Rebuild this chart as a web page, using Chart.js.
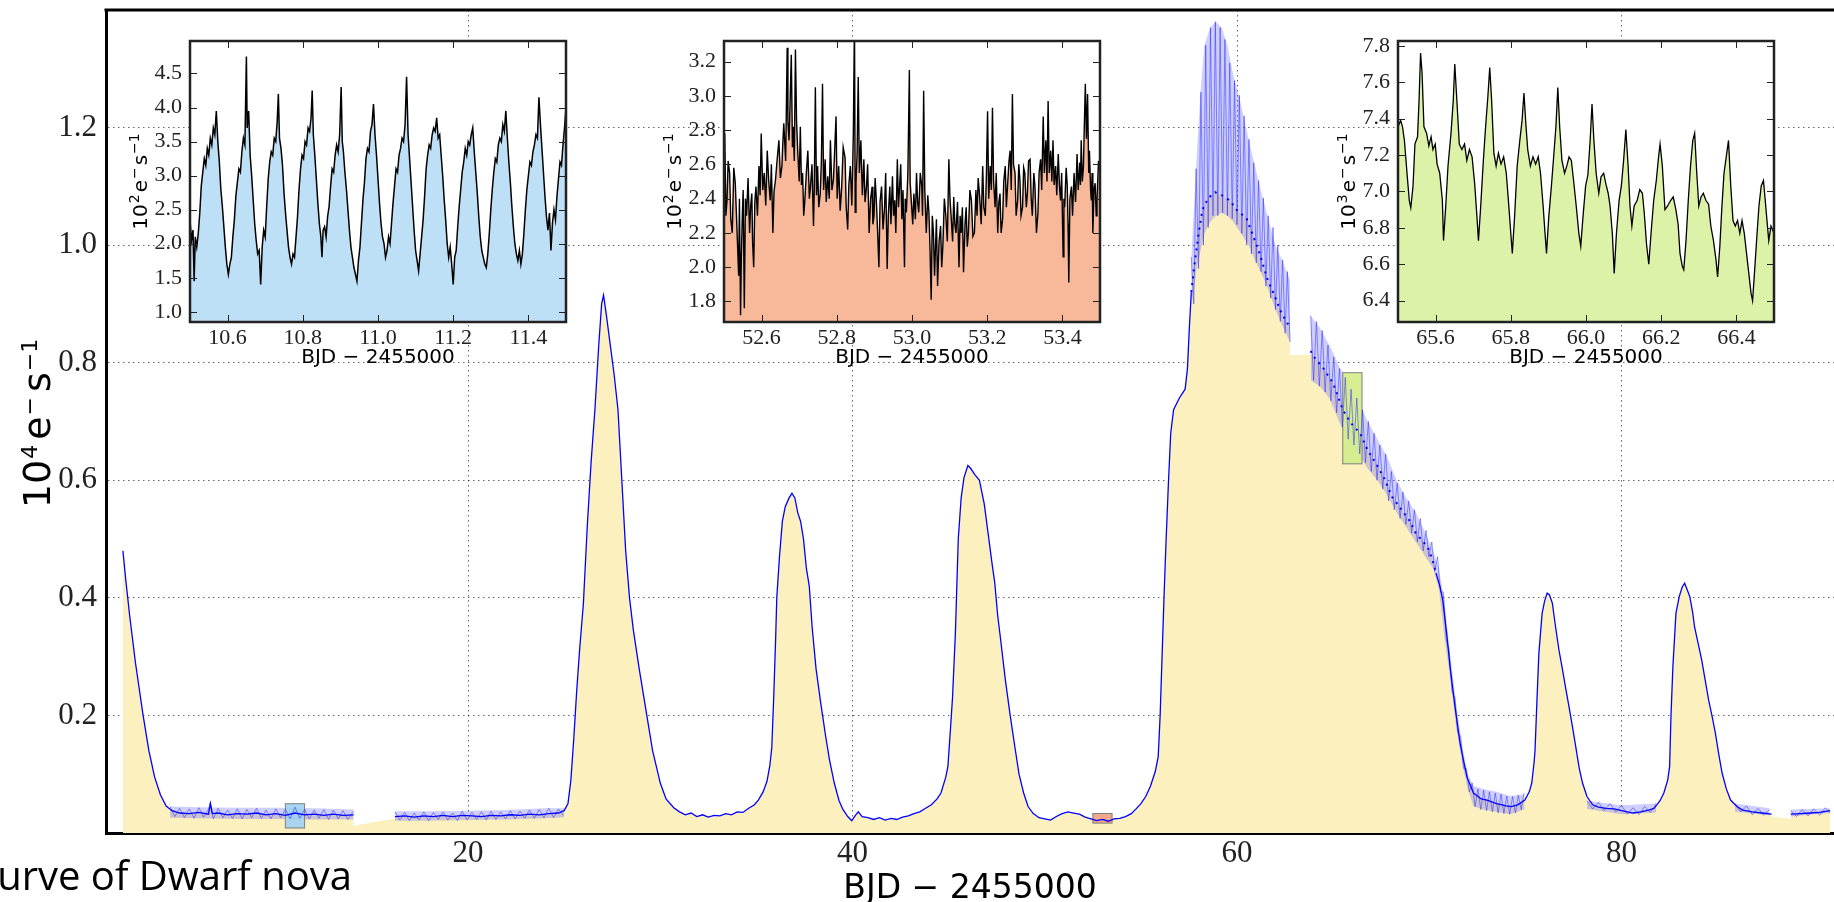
<!DOCTYPE html>
<html>
<head>
<meta charset="utf-8">
<title>Dwarf nova light curve</title>
<script src="https://cdn.jsdelivr.net/npm/chart.js@4.4.0/dist/chart.umd.min.js"></script>
<style>
  html, body { margin: 0; padding: 0; background: #fff; overflow: hidden; }
  #wrap { position: relative; width: 1834px; height: 902px; }
  canvas { position: absolute; }
  #caption {
    position: absolute; right: 1482px; top: 855px;
    font-family: "Open Sans", sans-serif; font-size: 40px; line-height: 1;
    white-space: nowrap; color: #000;
  }
</style>
</head>
<body>
<div id="wrap">
  <canvas id="mainChart" width="1834" height="902" style="left:0;top:0"></canvas>
  <canvas id="insetA" width="470" height="345" style="left:110px;top:30px"></canvas>
  <canvas id="insetB" width="470" height="345" style="left:644px;top:30px"></canvas>
  <canvas id="insetC" width="470" height="345" style="left:1318px;top:30px"></canvas>
  <div id="caption">urve of Dwarf nova</div>
</div>
<script>
// ---- main light curve (10^4 e-/s vs BJD - 2455000) ----
const mainXTicks = [20, 40, 60, 80];
const mainYTicks = [0.2, 0.4, 0.6, 0.8, 1.0, 1.2];

// smoothed curve (dark blue line, also the yellow fill)
const meanBJD = [
  2.05, 2.2, 2.4, 2.7, 3.1, 3.4, 3.7, 4.0, 4.3, 4.6, 5.0, 5.5, 6.0, 6.5, 6.6, 6.7, 7.0, 7.5, 8.0, 8.5,
  9.0, 9.5, 10.0, 10.5, 11.0, 11.5, 12.0, 12.5, 13.0, 13.5, 14.05, 15.0,
  16.2, 16.7, 17.2, 17.7, 18.2, 18.7, 19.2, 19.7, 20.2, 20.7, 21.2, 21.7, 22.2, 22.7, 23.2, 23.7, 24.2, 24.7,
  25.0, 25.2, 25.35, 25.5, 25.65, 25.8, 26.0, 26.2, 26.4, 26.6, 26.8, 26.95, 27.05, 27.2, 27.4, 27.6, 27.8,
  28.0, 28.2, 28.4, 28.6, 28.9, 29.3, 29.6, 30.0, 30.3, 30.7, 31.0, 31.3, 31.6, 31.9, 32.2, 32.5, 32.8,
  33.1, 33.4, 33.7, 34.0, 34.3, 34.6, 34.9, 35.1, 35.35, 35.55, 35.7, 35.8, 35.9, 36.0, 36.06, 36.2, 36.35,
  36.5, 36.7, 36.85, 37.0, 37.15, 37.3, 37.45, 37.6, 37.75, 37.9, 38.1, 38.35, 38.6, 38.8, 39.05, 39.3,
  39.5, 39.75, 39.96, 40.15, 40.3, 40.5, 40.8, 41.1, 41.4, 41.7, 42.0, 42.3, 42.6, 42.9, 43.2, 43.5, 43.8,
  44.1, 44.4, 44.6, 44.85, 44.96, 45.1, 45.2, 45.35, 45.5, 45.65, 45.8, 46.0, 46.15, 46.35, 46.6, 46.85,
  47.05, 47.25, 47.4, 47.55, 47.7, 47.95, 48.2, 48.45, 48.66, 48.9, 49.13, 49.4, 49.7, 50.0, 50.3, 50.6,
  50.9, 51.2, 51.5, 51.8, 52.1, 52.4, 52.7, 53.0, 53.3, 53.6, 53.9, 54.2, 54.5, 54.75, 55.0, 55.25, 55.5,
  55.75, 55.9, 56.0, 56.1, 56.2, 56.3, 56.43, 56.55, 56.7, 57.0, 57.3, 57.42, 57.52, 57.62, 57.76, 58.0,
  58.2, 58.5, 58.86, 59.2, 59.63, 59.98, 60.5, 60.95, 61.2, 61.6, 61.9, 62.3, 62.76, 63.3,
  63.83, 64.0, 64.5, 65.0, 65.5, 65.93, 66.4, 66.8, 67.2, 67.62, 68.06, 68.58, 69.0, 69.3, 69.7, 70.0,
  70.2, 70.35, 70.55, 70.7, 70.9, 71.08, 71.34, 71.6, 71.8, 71.96, 72.3, 72.7, 73.0, 73.5, 74.0, 74.26,
  74.6, 74.97, 75.2, 75.33, 75.45, 75.5, 75.6, 75.7, 75.87, 76.0, 76.13, 76.25, 76.4, 76.57, 76.75, 76.9,
  77.1, 77.27, 77.45, 77.62, 77.8, 77.97, 78.2, 78.5, 78.8, 79.2, 79.6, 79.9, 80.3, 80.6, 81.0, 81.4,
  81.7, 82.0, 82.2, 82.4, 82.5, 82.57, 82.67, 82.83, 83.0, 83.15, 83.28, 83.4, 83.55, 83.7, 83.8, 84.0,
  84.17, 84.35, 84.53, 84.7, 84.88, 85.05, 85.23, 85.45, 85.67, 86.0, 86.3, 86.8, 87.3, 87.8, 88.3,
  88.8, 89.3, 89.8, 90.3, 90.85
];
const meanFlux = [
  0.48, 0.43, 0.37, 0.29, 0.20, 0.14, 0.095, 0.065, 0.046, 0.038, 0.034, 0.033, 0.035, 0.032, 0.05, 0.033, 0.034, 0.031, 0.033, 0.032,
  0.034, 0.031, 0.033, 0.030, 0.034, 0.031, 0.032, 0.030, 0.032, 0.030, 0.031, null,
  0.028, 0.029, 0.027, 0.029, 0.028, 0.030, 0.028, 0.030, 0.029, 0.028, 0.030, 0.029, 0.031, 0.030, 0.032, 0.031, 0.033, 0.034,
  0.038, 0.05, 0.09, 0.16, 0.24, 0.31, 0.39, 0.52, 0.63, 0.72, 0.83, 0.90, 0.915, 0.88, 0.83, 0.78, 0.72,
  0.60, 0.48, 0.40, 0.345, 0.28, 0.20, 0.14, 0.085, 0.058, 0.043, 0.036, 0.031, 0.034, 0.028, 0.031, 0.027, 0.030,
  0.029, 0.033, 0.031, 0.036, 0.035, 0.042, 0.048, 0.056, 0.07, 0.088, 0.115, 0.145, 0.23, 0.33, 0.40, 0.47, 0.53,
  0.555, 0.57, 0.578, 0.57, 0.545, 0.53, 0.50, 0.45, 0.42, 0.35, 0.28, 0.22, 0.165, 0.125, 0.085, 0.055,
  0.04, 0.028, 0.021, 0.03, 0.036, 0.028, 0.026, 0.023, 0.026, 0.022, 0.025, 0.023, 0.027, 0.029, 0.033, 0.036, 0.042,
  0.048, 0.058, 0.068, 0.095, 0.113, 0.18, 0.23, 0.34, 0.50, 0.57, 0.605, 0.625, 0.62, 0.61, 0.60, 0.56,
  0.51, 0.46, 0.425, 0.37, 0.33, 0.26, 0.20, 0.145, 0.10, 0.068, 0.045, 0.033, 0.026, 0.024, 0.022, 0.028,
  0.033, 0.036, 0.034, 0.032, 0.027, 0.024, 0.021, 0.023, 0.020, 0.024, 0.025, 0.028, 0.033, 0.041, 0.050, 0.062, 0.08,
  0.105, 0.13, 0.20, 0.30, 0.40, 0.49, 0.595, 0.68, 0.72, 0.74, 0.755, 0.79, 0.86, 0.92, 0.96, 1.02,
  1.06, 1.08, 1.09, 1.085, 1.076, 1.06, 1.045, 1.006, 0.983, 0.94, 0.918, 0.885, 0.86, null,
  0.82, 0.81, 0.79, 0.765, 0.72, 0.697, 0.68, 0.651, 0.63, 0.606, 0.572, 0.549, 0.53, 0.51, 0.495, 0.481,
  0.46, 0.442, 0.42, 0.396, 0.34, 0.283, 0.214, 0.153, 0.12, 0.095, 0.068, 0.058, 0.056, 0.05, 0.046, 0.045,
  0.048, 0.056, 0.07, 0.085, 0.12, 0.141, 0.226, 0.306, 0.374, 0.395, 0.408, 0.405, 0.391, 0.35, 0.31, 0.283,
  0.245, 0.214, 0.18, 0.146, 0.11, 0.085, 0.062, 0.048, 0.044, 0.042, 0.041, 0.039, 0.036, 0.034, 0.036, 0.039,
  0.042, 0.055, 0.068, 0.09, 0.113, 0.198, 0.283, 0.374, 0.402, 0.418, 0.425, 0.415, 0.402, 0.375, 0.35, 0.32,
  0.294, 0.26, 0.226, 0.20, 0.17, 0.135, 0.102, 0.075, 0.056, 0.045, 0.039, 0.036, 0.034, 0.032, null,
  0.032, 0.033, 0.034, 0.035, 0.038
];

// scatter and superhumps around the curve
const humpBJD = [
  4.5, 4.75, 5.0, 5.25, 5.5, 5.75, 6.0, 6.25, 6.5, 6.6, 6.75, 7.0, 7.25, 7.5, 7.75, 8.0, 8.25, 8.5, 8.75, 9.0,
  9.25, 9.5, 9.75, 10.0, 10.25, 10.5, 10.75, 11.0, 11.25, 11.5, 11.75, 12.0, 12.25, 12.5, 12.75, 13.0, 13.25,
  13.5, 13.75, 14.05, 15.0,
  16.2, 16.45, 16.7, 16.95, 17.2, 17.45, 17.7, 17.95, 18.2, 18.45, 18.7, 18.95, 19.2, 19.45, 19.7, 19.95,
  20.2, 20.45, 20.7, 20.95, 21.2, 21.45, 21.7, 21.95, 22.2, 22.45, 22.7, 22.95, 23.2, 23.45, 23.7, 23.95,
  24.2, 24.45, 24.7, 24.95, 25.1,
  57.62, 57.75, 57.87, 58.0, 58.12, 58.25, 58.37, 58.5, 58.62, 58.75, 58.87, 59.0, 59.12, 59.25, 59.37, 59.5,
  59.62, 59.75, 59.87, 60.0, 60.12, 60.25, 60.37, 60.5, 60.62, 60.75, 60.87, 61.0, 61.12, 61.25, 61.37, 61.5,
  61.62, 61.75, 61.87, 62.0, 62.12, 62.25, 62.37, 62.5, 62.62, 62.76, 63.3,
  63.83, 63.98, 64.13, 64.28, 64.43, 64.58, 64.73, 64.88, 65.03, 65.18, 65.33, 65.48, 65.63, 65.78, 65.93,
  66.08, 66.23, 66.38, 66.53, 66.68, 66.83, 66.98, 67.13, 67.28, 67.43, 67.58, 67.73, 67.88, 68.03, 68.18,
  68.33, 68.48, 68.63, 68.78, 68.93, 69.08, 69.23, 69.38, 69.53, 69.68, 69.83, 69.98, 70.13, 70.28, 70.43,
  70.58, 70.73, 70.88, 71.03, 71.18, 71.33, 71.48, 71.63, 71.78, 71.93, 72.08, 72.23, 72.38, 72.53, 72.68,
  72.83, 72.98, 73.13, 73.28, 73.43, 73.58, 73.73, 73.88, 74.03, 74.18, 74.33, 74.48, 74.63, 74.78, 74.93, 75.3,
  78.2, 78.5, 78.8, 79.1, 79.4, 79.7, 80.0, 80.3, 80.6, 80.9, 81.2, 81.5, 81.8, 82.0,
  85.9, 86.2, 86.5, 86.8, 87.1, 87.4, 87.7, 88.3,
  88.8, 89.1, 89.4, 89.7, 90.0, 90.3, 90.6, 90.85
];
const humpFlux = [
  0.045, 0.028, 0.042, 0.026, 0.041, 0.025, 0.043, 0.027, 0.040, 0.053, 0.024, 0.042, 0.026, 0.039, 0.025, 0.041, 0.024, 0.040, 0.026, 0.042,
  0.025, 0.039, 0.024, 0.041, 0.026, 0.040, 0.024, 0.044, 0.025, 0.040, 0.024, 0.039, 0.025, 0.040, 0.023, 0.039, 0.024,
  0.038, 0.023, 0.037, null,
  0.036, 0.022, 0.035, 0.021, 0.034, 0.022, 0.036, 0.021, 0.035, 0.023, 0.036, 0.022, 0.034, 0.021, 0.037, 0.022,
  0.035, 0.023, 0.036, 0.022, 0.037, 0.023, 0.036, 0.024, 0.038, 0.024, 0.037, 0.025, 0.039, 0.025, 0.040, 0.026,
  0.042, 0.026, 0.041, 0.030, null,
  0.98, 0.90, 1.13, 0.96, 1.26, 1.00, 1.34, 1.03, 1.37, 1.05, 1.38, 1.05, 1.37, 1.055, 1.35, 1.05,
  1.31, 1.045, 1.28, 1.035, 1.255, 1.02, 1.22, 1.00, 1.18, 0.985, 1.14, 0.97, 1.11, 0.955, 1.08, 0.93,
  1.05, 0.91, 1.03, 0.89, 1.00, 0.87, 0.975, 0.85, 0.955, 0.835, null,
  0.88, 0.77, 0.87, 0.76, 0.855, 0.75, 0.83, 0.735, 0.81, 0.715, 0.79, 0.69, 0.775, 0.67, 0.755,
  0.66, 0.74, 0.645, 0.72, 0.63, 0.70, 0.615, 0.68, 0.60, 0.66, 0.585, 0.645, 0.565, 0.615, 0.55,
  0.595, 0.535, 0.58, 0.525, 0.565, 0.51, 0.55, 0.495, 0.535, 0.48, 0.515, 0.47, 0.495, 0.445, 0.47,
  0.41, 0.41, 0.33, 0.31, 0.24, 0.23, 0.17, 0.165, 0.11, 0.11, 0.07, 0.085, 0.045, 0.075, 0.04,
  0.073, 0.038, 0.07, 0.036, 0.068, 0.034, 0.066, 0.033, 0.063, 0.032, 0.062, 0.034, 0.064, 0.04, 0.068, null,
  0.055, 0.041, 0.052, 0.038, 0.05, 0.036, 0.047, 0.032, 0.043, 0.031, 0.045, 0.035, 0.05, null,
  0.05, 0.036, 0.046, 0.031, 0.042, 0.03, 0.04, null,
  0.038, 0.028, 0.04, 0.029, 0.041, 0.03, 0.043, 0.034
];

// upper and lower edge of the scatter band
const bandBJD = [
  4.5, 6.0, 8.0, 10.0, 12.0, 14.05, 15.0,
  16.2, 18.0, 20.0, 22.0, 24.0, 25.0, 25.1,
  57.62, 57.75, 57.9, 58.1, 58.3, 58.6, 58.9, 59.2, 59.5, 59.8, 60.2, 60.6, 61.0, 61.5, 62.0, 62.4, 62.76, 63.3,
  63.83, 64.3, 64.8, 65.3, 65.8, 66.3, 66.8, 67.3, 67.8, 68.3, 68.8, 69.3, 69.8, 70.2, 70.5, 70.8, 71.1,
  71.4, 71.7, 72.0, 72.3, 72.8, 73.5, 74.2, 74.95, 75.3,
  78.2, 80.0, 81.8, 82.0,
  85.9, 87.7, 88.3,
  88.8, 90.85
];
const bandHigh = [
  0.045, 0.044, 0.043, 0.043, 0.042, 0.040, null,
  0.037, 0.037, 0.038, 0.039, 0.042, 0.042, null,
  0.98, 1.06, 1.15, 1.26, 1.34, 1.37, 1.38, 1.37, 1.34, 1.29, 1.24, 1.18, 1.125, 1.06, 1.0, 0.97, 0.94, null,
  0.88, 0.86, 0.83, 0.795, 0.765, 0.735, 0.70, 0.67, 0.64, 0.60, 0.57, 0.545, 0.51, 0.48, 0.45, 0.39, 0.30,
  0.22, 0.15, 0.10, 0.08, 0.075, 0.07, 0.063, 0.066, null,
  0.055, 0.047, 0.05, null,
  0.05, 0.042, null,
  0.04, 0.042
];
const bandLow = [
  0.026, 0.025, 0.024, 0.024, 0.023, 0.023, null,
  0.021, 0.021, 0.022, 0.023, 0.025, 0.027, null,
  0.90, 0.92, 0.96, 0.99, 1.02, 1.04, 1.05, 1.055, 1.05, 1.04, 1.02, 1.0, 0.97, 0.935, 0.89, 0.86, 0.835, null,
  0.77, 0.76, 0.74, 0.70, 0.67, 0.645, 0.62, 0.60, 0.575, 0.545, 0.52, 0.495, 0.47, 0.45, 0.415, 0.33, 0.26,
  0.18, 0.12, 0.075, 0.045, 0.04, 0.036, 0.032, 0.04, null,
  0.041, 0.032, 0.035, null,
  0.036, 0.03, null,
  0.028, 0.034
];

// straight fill across the gaps in the photometry
const bridgeBJD = [14.0, 16.25, 15.5, 62.7, 63.9, 63.95, 87.75, 88.85];
const bridgeFlux = [0.012, 0.025, null, 0.813, 0.813, null, 0.028, 0.024];

// superoutburst stretch where the smoothed curve shows as sparse dots
const superStart = 57.62;
const superEnd = 70.5;

// windows shown in the three insets (BJD range, flux range in 10^4 e-/s)
const zoomStart = [10.5, 52.5, 65.5];
const zoomEnd = [11.5, 53.5, 66.5];
const zoomLow = [0.0085, 0.0168, 0.628];
const zoomHigh = [0.0498, 0.0332, 0.783];

// ---- inset A: quiescence, 10^2 e-/s ----
const insetABJD = [
  10.500, 10.504, 10.508, 10.511, 10.514, 10.518, 10.522, 10.526, 10.530, 10.534, 10.538, 10.542, 10.546, 10.550,
  10.554, 10.558, 10.562, 10.566, 10.570, 10.574, 10.578, 10.582, 10.586, 10.590, 10.594, 10.598, 10.602, 10.606,
  10.610, 10.614, 10.618, 10.622, 10.626, 10.630, 10.634, 10.638, 10.642, 10.646, 10.650, 10.652, 10.656, 10.660,
  10.664, 10.668, 10.672, 10.676, 10.680, 10.684, 10.688, 10.692, 10.696, 10.700, 10.704, 10.708, 10.712, 10.716,
  10.720, 10.724, 10.728, 10.732, 10.735, 10.738, 10.742, 10.746, 10.750, 10.754, 10.758, 10.762, 10.766, 10.770,
  10.774, 10.778, 10.782, 10.786, 10.790, 10.794, 10.798, 10.802, 10.806, 10.810, 10.814, 10.818, 10.822, 10.825,
  10.828, 10.832, 10.836, 10.840, 10.844, 10.848, 10.851, 10.854, 10.858, 10.862, 10.866, 10.870, 10.874, 10.878,
  10.882, 10.886, 10.890, 10.894, 10.898, 10.902, 10.905, 10.908, 10.912, 10.916, 10.920, 10.924, 10.928, 10.932,
  10.936, 10.940, 10.944, 10.948, 10.952, 10.956, 10.960, 10.964, 10.968, 10.972, 10.976, 10.980, 10.984, 10.988,
  10.992, 10.996, 11.000, 11.004, 11.008, 11.012, 11.016, 11.020, 11.024, 11.028, 11.032, 11.036, 11.040, 11.044,
  11.048, 11.052, 11.056, 11.060, 11.064, 11.068, 11.072, 11.076, 11.080, 11.084, 11.088, 11.092, 11.096, 11.100,
  11.104, 11.108, 11.112, 11.116, 11.120, 11.124, 11.128, 11.132, 11.136, 11.140, 11.144, 11.148, 11.152, 11.156,
  11.160, 11.164, 11.168, 11.172, 11.176, 11.180, 11.184, 11.188, 11.192, 11.196, 11.200, 11.204, 11.208, 11.212,
  11.216, 11.220, 11.224, 11.228, 11.232, 11.236, 11.240, 11.244, 11.248, 11.252, 11.256, 11.260, 11.264, 11.268,
  11.272, 11.276, 11.280, 11.284, 11.288, 11.292, 11.296, 11.300, 11.304, 11.308, 11.312, 11.316, 11.320, 11.324,
  11.328, 11.332, 11.336, 11.340, 11.344, 11.348, 11.352, 11.356, 11.360, 11.364, 11.368, 11.372, 11.376, 11.380,
  11.384, 11.388, 11.392, 11.396, 11.400, 11.404, 11.408, 11.412, 11.416, 11.420, 11.424, 11.428, 11.432, 11.436,
  11.440, 11.444, 11.448, 11.452, 11.456, 11.460, 11.464, 11.468, 11.472, 11.476, 11.480, 11.484, 11.488, 11.492,
  11.496, 11.500
];
const insetAFlux = [
  2.35, 2.05, 2.20, 1.45, 2.10, 1.95, 2.15, 2.45, 2.85, 3.05, 3.25, 3.15, 3.40, 3.30,
  3.55, 3.45, 3.70, 3.60, 3.95, 3.50, 3.20, 2.80, 2.55, 2.25, 1.95, 1.70, 1.55, 1.70,
  1.80, 2.10, 2.35, 2.70, 2.90, 3.10, 3.05, 3.35, 3.55, 3.45, 4.75, 3.70, 3.95, 3.30,
  3.00, 2.65, 2.30, 2.05, 1.85, 1.90, 1.40, 1.95, 2.20, 2.10, 2.55, 2.95, 3.20, 3.35,
  3.30, 3.55, 3.50, 3.80, 4.20, 3.55, 3.40, 3.15, 2.75, 2.45, 2.20, 1.95, 1.80, 1.70,
  1.85, 1.80, 2.10, 2.40, 2.80, 3.10, 3.30, 3.25, 3.50, 3.45, 3.70, 3.65, 3.85, 4.25,
  3.60, 3.30, 2.95, 2.60, 2.30, 2.10, 1.80, 2.20, 2.25, 2.10, 2.40, 2.55, 2.85, 3.10,
  3.05, 3.30, 3.45, 3.35, 3.60, 4.30, 3.50, 3.35, 3.05, 2.80, 2.50, 2.20, 1.95, 1.80,
  1.65, 1.55, 1.45, 1.75, 1.95, 2.30, 2.65, 2.90, 3.25, 3.40, 3.35, 3.65, 3.75, 4.05,
  3.60, 3.30, 2.95, 2.60, 2.30, 2.10, 2.00, 1.80, 1.90, 2.10, 2.00, 2.30, 2.60, 2.85,
  3.10, 3.05, 3.30, 3.40, 3.55, 3.50, 3.75, 4.45, 3.60, 3.25, 2.90, 2.55, 2.20, 1.90,
  1.75, 1.60, 1.85, 2.10, 2.35, 2.70, 3.10, 3.30, 3.45, 3.40, 3.60, 3.70, 3.65, 3.85,
  3.55, 3.60, 3.30, 3.00, 2.65, 2.35, 2.00, 1.80, 1.95, 1.70, 1.40, 1.80, 1.90, 2.25,
  2.55, 2.80, 3.05, 3.20, 3.40, 3.30, 3.50, 3.45, 3.60, 3.70, 3.35, 3.05, 2.75, 2.40,
  2.10, 1.90, 1.80, 1.70, 1.65, 1.85, 2.15, 2.50, 2.80, 3.05, 3.25, 3.20, 3.45, 3.55,
  3.50, 3.75, 3.65, 3.95, 3.55, 3.20, 2.90, 2.55, 2.25, 2.00, 1.85, 1.75, 1.90, 1.70,
  1.85, 2.15, 2.50, 2.80, 3.00, 3.20, 3.15, 3.35, 3.45, 3.60, 3.55, 4.15, 3.75, 3.40,
  3.05, 2.70, 2.40, 2.20, 2.45, 1.90, 2.30, 2.50, 2.35, 2.70, 2.95, 3.20, 3.15, 3.45,
  3.70, 4.00
];

// ---- inset B: quiescence before the superoutburst, 10^2 e-/s ----
const insetBBJD = [
  52.502, 52.505, 52.508, 52.511, 52.515, 52.518, 52.522, 52.526, 52.530, 52.534, 52.539, 52.541, 52.544, 52.546,
  52.549, 52.551, 52.554, 52.557, 52.560, 52.564, 52.568, 52.571, 52.574, 52.576, 52.579, 52.582, 52.585, 52.589,
  52.593, 52.596, 52.599, 52.603, 52.607, 52.611, 52.615, 52.619, 52.623, 52.626, 52.630, 52.633, 52.637, 52.641,
  52.646, 52.650, 52.654, 52.656, 52.659, 52.664, 52.668, 52.670, 52.673, 52.676, 52.679, 52.682, 52.684, 52.687,
  52.690, 52.693, 52.696, 52.700, 52.703, 52.706, 52.709, 52.712, 52.715, 52.719, 52.723, 52.727, 52.730, 52.734,
  52.738, 52.740, 52.743, 52.746, 52.749, 52.752, 52.756, 52.759, 52.762, 52.765, 52.769, 52.772, 52.776, 52.780,
  52.783, 52.787, 52.791, 52.794, 52.798, 52.801, 52.805, 52.809, 52.813, 52.817, 52.822, 52.825, 52.829, 52.832,
  52.836, 52.840, 52.844, 52.847, 52.849, 52.851, 52.854, 52.857, 52.860, 52.864, 52.868, 52.872, 52.875, 52.879,
  52.882, 52.886, 52.890, 52.894, 52.896, 52.899, 52.902, 52.906, 52.909, 52.912, 52.915, 52.919, 52.923, 52.927,
  52.930, 52.934, 52.937, 52.941, 52.944, 52.948, 52.951, 52.954, 52.957, 52.961, 52.964, 52.967, 52.970, 52.973,
  52.976, 52.980, 52.982, 52.985, 52.989, 52.993, 52.995, 52.998, 53.002, 53.005, 53.009, 53.012, 53.015, 53.018,
  53.022, 53.026, 53.028, 53.031, 53.034, 53.038, 53.042, 53.045, 53.048, 53.051, 53.054, 53.057, 53.060, 53.062,
  53.065, 53.068, 53.072, 53.076, 53.079, 53.082, 53.086, 53.090, 53.094, 53.098, 53.101, 53.104, 53.108, 53.111,
  53.114, 53.117, 53.121, 53.125, 53.128, 53.131, 53.134, 53.137, 53.141, 53.144, 53.147, 53.150, 53.154, 53.158,
  53.162, 53.166, 53.170, 53.173, 53.176, 53.180, 53.184, 53.188, 53.191, 53.195, 53.198, 53.201, 53.204, 53.208,
  53.211, 53.214, 53.217, 53.221, 53.224, 53.228, 53.231, 53.234, 53.237, 53.241, 53.244, 53.248, 53.251, 53.254,
  53.258, 53.261, 53.264, 53.267, 53.270, 53.274, 53.277, 53.281, 53.284, 53.287, 53.290, 53.294, 53.297, 53.300,
  53.304, 53.307, 53.310, 53.314, 53.317, 53.320, 53.324, 53.327, 53.331, 53.335, 53.338, 53.342, 53.345, 53.349,
  53.352, 53.356, 53.359, 53.362, 53.365, 53.369, 53.372, 53.375, 53.378, 53.382, 53.385, 53.389, 53.392, 53.395,
  53.398, 53.402, 53.404, 53.406, 53.410, 53.413, 53.415, 53.417, 53.420, 53.424, 53.427, 53.431, 53.435, 53.439,
  53.442, 53.446, 53.448, 53.450, 53.453, 53.456, 53.458, 53.461, 53.464, 53.467, 53.470, 53.472, 53.475, 53.477,
  53.479, 53.481, 53.484, 53.487, 53.490, 53.492, 53.496, 53.500
];
const insetBFlux = [
  2.78, 2.30, 2.39, 2.62, 2.55, 2.28, 2.20, 2.58, 2.49, 2.25, 1.95, 2.40, 1.72, 2.05,
  2.32, 2.45, 1.76, 2.40, 2.30, 2.52, 2.20, 2.36, 2.43, 2.15, 2.00, 2.38, 2.47, 2.30,
  2.59, 2.42, 2.78, 2.45, 2.55, 2.36, 2.68, 2.50, 2.39, 2.60, 2.20, 2.44, 2.51, 2.62,
  2.74, 2.52, 2.59, 2.70, 2.84, 2.62, 3.28, 2.85, 2.74, 2.98, 3.24, 2.70, 2.82, 2.62,
  3.27, 2.85, 2.68, 2.50, 2.82, 2.48, 2.55, 2.30, 2.39, 2.55, 2.68, 2.40, 2.47, 2.60,
  2.24, 2.45, 3.05, 2.42, 2.59, 2.35, 2.43, 2.62, 3.07, 2.45, 2.63, 2.38, 2.53, 2.40,
  2.74, 2.45, 2.51, 2.66, 2.88, 2.40, 2.59, 2.33, 2.47, 2.70, 2.64, 2.35, 2.22, 2.48,
  2.59, 2.36, 2.78, 3.45, 2.32, 2.49, 2.66, 3.11, 2.55, 2.74, 2.42, 2.63, 2.38, 2.47,
  2.60, 2.20, 2.40, 2.47, 2.25, 2.30, 2.52, 2.35, 2.18, 2.00, 2.38, 2.47, 2.22, 2.35,
  2.55, 1.99, 2.30, 2.47, 2.25, 2.53, 2.30, 2.39, 2.20, 2.63, 2.35, 2.47, 2.60, 2.28,
  2.45, 2.00, 2.40, 2.32, 2.55, 3.15, 2.50, 2.39, 2.25, 2.43, 2.28, 2.55, 2.38, 2.32,
  2.55, 2.47, 2.30, 3.03, 2.45, 2.20, 2.42, 2.32, 2.10, 1.81, 2.30, 2.20, 1.95, 2.08,
  2.28, 1.89, 2.15, 2.24, 2.00, 2.12, 2.40, 2.30, 2.15, 2.63, 2.40, 2.30, 2.15, 2.41,
  2.25, 2.20, 2.38, 2.00, 2.30, 2.20, 2.35, 1.97, 2.25, 2.35, 2.12, 2.20, 2.45, 2.39,
  2.18, 2.20, 2.45, 2.30, 2.52, 2.41, 2.25, 2.59, 2.35, 2.30, 2.55, 2.91, 2.40, 2.59,
  2.45, 2.93, 2.50, 2.35, 2.55, 2.20, 2.38, 2.43, 2.20, 2.28, 2.50, 2.59, 2.35, 2.47,
  2.62, 2.68, 2.45, 3.01, 2.60, 2.55, 2.30, 2.39, 2.60, 2.51, 2.30, 2.35, 2.58, 2.55,
  2.35, 2.43, 2.62, 2.63, 2.40, 2.30, 2.55, 2.47, 2.20, 2.32, 2.55, 2.63, 2.45, 2.88,
  2.55, 2.74, 2.50, 2.97, 2.55, 2.68, 2.50, 2.74, 2.48, 2.59, 2.42, 2.66, 2.48, 2.39,
  2.55, 2.06, 2.40, 2.35, 2.58, 2.47, 2.25, 1.91, 2.40, 2.47, 2.30, 2.55, 2.38, 2.66,
  2.45, 2.61, 2.48, 2.74, 2.50, 2.59, 2.80, 3.07, 2.75, 3.01, 2.55, 2.68, 2.45, 2.39,
  2.55, 2.20, 2.45, 2.49, 2.30, 2.39, 2.62, 2.55
];

// ---- inset C: superoutburst decline, 10^3 e-/s ----
const insetCBJD = [
  65.500, 65.507, 65.512, 65.517, 65.524, 65.530, 65.534, 65.540, 65.545, 65.552, 65.556, 65.560, 65.564, 65.569,
  65.576, 65.582, 65.588, 65.593, 65.599, 65.604, 65.611, 65.618, 65.621, 65.627, 65.633, 65.641, 65.647, 65.651,
  65.656, 65.663, 65.670, 65.677, 65.683, 65.690, 65.697, 65.704, 65.710, 65.714, 65.720, 65.727, 65.733, 65.739,
  65.744, 65.749, 65.755, 65.761, 65.767, 65.774, 65.781, 65.788, 65.794, 65.800, 65.804, 65.810, 65.817, 65.824,
  65.830, 65.835, 65.840, 65.845, 65.852, 65.859, 65.866, 65.873, 65.879, 65.886, 65.891, 65.895, 65.901, 65.908,
  65.914, 65.920, 65.925, 65.930, 65.936, 65.943, 65.949, 65.955, 65.961, 65.967, 65.974, 65.981, 65.986, 65.992,
  65.999, 66.005, 66.011, 66.016, 66.021, 66.027, 66.034, 66.040, 66.047, 66.053, 66.059, 66.064, 66.070, 66.075,
  66.081, 66.088, 66.094, 66.100, 66.106, 66.112, 66.117, 66.122, 66.128, 66.136, 66.143, 66.150, 66.155, 66.161,
  66.167, 66.173, 66.180, 66.187, 66.193, 66.197, 66.203, 66.210, 66.217, 66.225, 66.232, 66.239, 66.245, 66.250,
  66.256, 66.260, 66.266, 66.272, 66.278, 66.284, 66.289, 66.294, 66.300, 66.306, 66.312, 66.319, 66.326, 66.332,
  66.339, 66.346, 66.350, 66.356, 66.361, 66.367, 66.373, 66.379, 66.385, 66.391, 66.397, 66.403, 66.409, 66.415,
  66.421, 66.427, 66.433, 66.439, 66.443, 66.448, 66.455, 66.460, 66.466, 66.472, 66.478, 66.486, 66.492, 66.500
];
const insetCFlux = [
  7.355, 7.39, 7.355, 7.28, 7.10, 6.95, 6.91, 7.03, 7.26, 7.30, 7.50, 7.76, 7.65, 7.355,
  7.32, 7.25, 7.30, 7.23, 7.26, 7.15, 7.10, 6.95, 6.73, 6.92, 7.14, 7.32, 7.50, 7.70,
  7.52, 7.26, 7.23, 7.26, 7.17, 7.23, 7.19, 7.04, 6.86, 6.73, 6.92, 7.17, 7.355, 7.52,
  7.68, 7.50, 7.21, 7.14, 7.21, 7.15, 7.19, 7.10, 6.94, 6.77, 6.66, 6.86, 7.14, 7.28,
  7.39, 7.54, 7.37, 7.23, 7.14, 7.19, 7.15, 7.19, 7.10, 6.92, 6.77, 6.66, 6.86, 7.03,
  7.19, 7.355, 7.57, 7.355, 7.17, 7.10, 7.14, 7.19, 7.17, 7.06, 6.92, 6.77, 6.70, 6.86,
  7.03, 7.09, 7.28, 7.48, 7.28, 7.10, 6.99, 7.08, 7.10, 7.04, 6.99, 6.92, 6.77, 6.55,
  6.77, 6.95, 7.03, 7.17, 7.34, 7.14, 6.92, 6.81, 6.92, 6.95, 7.01, 6.99, 6.88, 6.71,
  6.60, 6.77, 6.95, 7.06, 7.19, 7.26, 7.14, 6.90, 6.92, 6.95, 6.97, 6.90, 6.82, 6.66,
  6.59, 6.57, 6.73, 6.95, 7.14, 7.28, 7.32, 7.12, 6.92, 6.97, 6.99, 6.95, 6.93, 6.81,
  6.73, 6.62, 6.53, 6.70, 6.90, 7.10, 7.19, 7.28, 7.03, 6.84, 6.81, 6.84, 6.77, 6.84,
  6.77, 6.66, 6.55, 6.44, 6.40, 6.55, 6.77, 6.92, 7.03, 7.06, 6.92, 6.73, 6.81, 6.77
];

const toPoints = (xs, ys) => xs.map((x, i) => ({ x: x, y: ys[i] }));

const serif = "'Liberation Serif', 'Times New Roman', serif";
const sans = "'DejaVu Sans', sans-serif";

// rotated axis label with real superscripts: runs are [text, size, raise, gapAfter]
function drawSciLabel(ctx, cx, cy, runs) {
  ctx.save();
  ctx.translate(cx, cy);
  ctx.rotate(-Math.PI / 2);
  ctx.fillStyle = "#000";
  ctx.textBaseline = "alphabetic";
  ctx.textAlign = "left";
  let total = 0;
  runs.forEach((r) => {
    ctx.font = r[1] + "px " + sans;
    total += ctx.measureText(r[0]).width + r[3];
  });
  let pos = -total / 2;
  runs.forEach((r) => {
    ctx.font = r[1] + "px " + sans;
    ctx.fillText(r[0], pos, -r[2]);
    pos += ctx.measureText(r[0]).width + r[3];
  });
  ctx.restore();
}

function unitRuns(exp, base, sup, raise) {
  return [
    ["10", base, 0, 1],
    [exp, sup, raise, Math.round(base * 0.12)],
    ["e", base, 0, 1],
    ["\u2212", sup, raise, Math.round(base * 0.12)],
    ["s", base, 0, 1],
    ["\u22121", sup, raise, 0],
  ];
}

// frame on top and the y label of the big axes
const mainDecor = {
  id: "mainDecor",
  afterDraw(chart) {
    const { ctx, chartArea } = chart;
    ctx.save();
    ctx.strokeStyle = "#000";
    ctx.lineWidth = 3;
    ctx.beginPath();
    ctx.moveTo(chartArea.left - 1.5, chartArea.top);
    ctx.lineTo(chartArea.right, chartArea.top);
    ctx.stroke();
    ctx.restore();
    drawSciLabel(ctx, 50, (chartArea.top + chartArea.bottom) / 2 + 2, unitRuns("4", 38, 22, 13));
  },
};

// small rectangles marking the inset windows
const zoomBoxes = {
  id: "zoomBoxes",
  beforeDatasetsDraw(chart) {
    const { ctx, scales } = chart;
    const fills = ["rgba(160,208,242,0.9)", "rgba(240,160,125,0.9)", "rgba(212,236,140,0.95)"];
    ctx.save();
    zoomStart.forEach((x0, i) => {
      const left = scales.x.getPixelForValue(x0);
      const right = scales.x.getPixelForValue(zoomEnd[i]);
      const top = scales.y.getPixelForValue(zoomHigh[i]);
      const bottom = scales.y.getPixelForValue(zoomLow[i]);
      ctx.fillStyle = fills[i];
      ctx.fillRect(left, top, right - left, bottom - top);
      ctx.strokeStyle = "#7a8080";
      ctx.lineWidth = 1;
      ctx.strokeRect(left, top, right - left, bottom - top);
    });
    ctx.restore();
  },
};

const noEdgePadding = (scale) => {
  scale.paddingTop = 0;
  scale.paddingBottom = 0;
};

const inSuper = (ctx) => ctx.p0.parsed.x >= superStart && ctx.p1.parsed.x <= superEnd;

new Chart(document.getElementById("mainChart"), {
  type: "line",
  data: {
    datasets: [
      {
        data: toPoints(meanBJD, meanFlux), borderColor: "#0000ff", borderWidth: 1.3, fill: false, order: 1,
        segment: {
          borderDash: (ctx) => (inSuper(ctx) ? [2, 5] : undefined),
          borderWidth: (ctx) => (inSuper(ctx) ? 2 : undefined),
        },
      },
      { data: toPoints(humpBJD, humpFlux), borderColor: "rgba(40,40,255,0.5)", borderWidth: 1, fill: false, order: 2 },
      { data: toPoints(bandBJD, bandLow), borderWidth: 0, borderColor: "rgba(0,0,0,0)", fill: false, order: 8 },
      {
        data: toPoints(bandBJD, bandHigh), borderWidth: 0, borderColor: "rgba(0,0,0,0)",
        backgroundColor: "rgba(80,80,255,0.28)", fill: "-1", order: 7,
      },
      {
        data: toPoints(meanBJD, meanFlux), borderWidth: 0, borderColor: "rgba(0,0,0,0)",
        backgroundColor: "#fcf0bf", fill: "origin", order: 10,
      },
      {
        data: toPoints(bridgeBJD, bridgeFlux), borderWidth: 0, borderColor: "rgba(0,0,0,0)",
        backgroundColor: "#fcf0bf", fill: "origin", order: 9,
      },
    ],
  },
  options: {
    responsive: false,
    animation: false,
    devicePixelRatio: 1,
    spanGaps: false,
    layout: { padding: { top: 10, right: 0, bottom: 0, left: 0 } },
    elements: { point: { radius: 0 }, line: { tension: 0 } },
    plugins: {
      legend: { display: false },
      tooltip: { enabled: false },
      filler: { drawTime: "beforeDatasetsDraw" },
    },
    scales: {
      x: {
        type: "linear",
        min: 1.17,
        max: 91.05,
        afterFit: (scale) => { scale.height = 69; },
        afterBuildTicks: (scale) => { scale.ticks = mainXTicks.map((v) => ({ value: v })); },
        ticks: {
          autoSkip: false,
          maxRotation: 0,
          padding: 2,
          color: "#222",
          font: { family: serif, size: 31 },
          callback: (v) => String(v),
        },
        grid: { color: "rgba(0,0,0,0.6)", lineWidth: 1, drawTicks: false },
        border: { display: true, color: "#000", width: 3, dash: [1.5, 3.5] },
        title: {
          display: true,
          text: "BJD \u2212 2455000",
          color: "#000",
          font: { family: sans, size: 33, lineHeight: 0.7 },
          padding: { top: 0, bottom: 1 },
        },
      },
      y: {
        min: 0,
        max: 1.4,
        afterFit: (scale) => { scale.width = 106; noEdgePadding(scale); },
        afterBuildTicks: (scale) => { scale.ticks = mainYTicks.map((v) => ({ value: v })); },
        ticks: {
          autoSkip: false,
          padding: 9,
          color: "#222",
          font: { family: serif, size: 31 },
          callback: (v) => v.toFixed(1),
        },
        grid: { color: "rgba(0,0,0,0.6)", lineWidth: 1, drawTicks: false },
        border: { display: true, color: "#000", width: 3, dash: [1.5, 3.5] },
        title: { display: false },
      },
    },
  },
  plugins: [zoomBoxes, mainDecor],
});

// ---- insets ----
const insetFrame = {
  id: "insetFrame",
  beforeDraw(chart) {
    const { ctx, chartArea: a } = chart;
    ctx.save();
    ctx.fillStyle = "#fff";
    ctx.fillRect(a.left, a.top, a.right - a.left, a.bottom - a.top);
    ctx.restore();
  },
  afterDraw(chart, args, opts) {
    const { ctx, chartArea: a, scales } = chart;
    ctx.save();
    ctx.strokeStyle = "#222";
    ctx.lineWidth = 1;
    ctx.beginPath();
    scales.x.ticks.forEach((t) => {
      const px = Math.round(scales.x.getPixelForValue(t.value)) + 0.5;
      ctx.moveTo(px, a.bottom); ctx.lineTo(px, a.bottom - 7);
      ctx.moveTo(px, a.top); ctx.lineTo(px, a.top + 7);
    });
    scales.y.ticks.forEach((t) => {
      const py = Math.round(scales.y.getPixelForValue(t.value)) + 0.5;
      ctx.moveTo(a.left, py); ctx.lineTo(a.left + 7, py);
      ctx.moveTo(a.right, py); ctx.lineTo(a.right - 7, py);
    });
    ctx.stroke();
    ctx.lineWidth = 2.5;
    ctx.strokeRect(a.left, a.top, a.right - a.left, a.bottom - a.top);
    ctx.restore();
    drawSciLabel(ctx, 37, (a.top + a.bottom) / 2, unitRuns(opts.exponent, 20, 14, 8));
  },
};

function makeInset(id, xs, ys, xRange, yRange, xTicks, yTicks, fillColor, exponent, lineWidth) {
  new Chart(document.getElementById(id), {
    type: "line",
    data: {
      datasets: [
        {
          data: toPoints(xs, ys),
          borderColor: "#000",
          borderWidth: lineWidth,
          backgroundColor: fillColor,
          fill: "start",
        },
      ],
    },
    options: {
      responsive: false,
      animation: false,
      devicePixelRatio: 1,
      layout: { padding: { top: 11, right: 14, bottom: 0, left: 0 } },
      elements: { point: { radius: 0 }, line: { tension: 0 } },
      plugins: {
        legend: { display: false },
        tooltip: { enabled: false },
        insetFrame: { exponent: exponent },
      },
      scales: {
        x: {
          type: "linear",
          min: xRange[0],
          max: xRange[1],
          afterFit: (scale) => { scale.height = 53; },
          afterBuildTicks: (scale) => { scale.ticks = xTicks.map((v) => ({ value: v })); },
          ticks: {
            autoSkip: false,
            maxRotation: 0,
            padding: 3,
            color: "#222",
            font: { family: serif, size: 22 },
            callback: (v) => v.toFixed(1),
          },
          grid: { display: false, drawTicks: false },
          border: { display: false },
          title: {
            display: true,
            text: "BJD \u2212 2455000",
            color: "#000",
            font: { family: sans, size: 20, lineHeight: 1 },
            padding: { top: 0, bottom: 7 },
          },
        },
        y: {
          min: yRange[0],
          max: yRange[1],
          afterFit: (scale) => { scale.width = 80; noEdgePadding(scale); },
          afterBuildTicks: (scale) => { scale.ticks = yTicks.map((v) => ({ value: v })); },
          ticks: {
            autoSkip: false,
            padding: 8,
            color: "#222",
            font: { family: serif, size: 22 },
            callback: (v) => v.toFixed(1),
          },
          grid: { display: false, drawTicks: false },
          border: { display: false },
          title: { display: false },
        },
      },
    },
    plugins: [insetFrame],
  });
}

makeInset("insetA", insetABJD, insetAFlux, [10.5, 11.5], [0.85, 4.977],
  [10.6, 10.8, 11.0, 11.2, 11.4], [1.0, 1.5, 2.0, 2.5, 3.0, 3.5, 4.0, 4.5],
  "#bee0f7", "2", 1.5);
makeInset("insetB", insetBBJD, insetBFlux, [52.5, 53.5], [1.68, 3.32],
  [52.6, 52.8, 53.0, 53.2, 53.4], [1.8, 2.0, 2.2, 2.4, 2.6, 2.8, 3.0, 3.2],
  "#f8b99b", "2", 1.4);
makeInset("insetC", insetCBJD, insetCFlux, [65.5, 66.5], [6.283, 7.826],
  [65.6, 65.8, 66.0, 66.2, 66.4], [6.4, 6.6, 6.8, 7.0, 7.2, 7.4, 7.6, 7.8],
  "#dcf2a8", "3", 1.3);
</script>
</body>
</html>
